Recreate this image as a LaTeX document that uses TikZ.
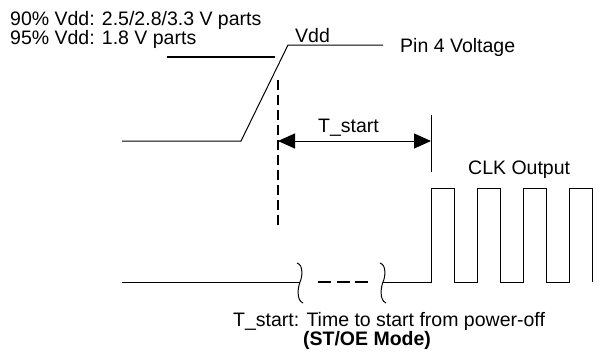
\documentclass[tikz,border=0pt]{standalone}
\usepackage{fontspec}
\setmainfont{Liberation Sans}
\usetikzlibrary{arrows.meta}
\tikzset{
  lbl/.style={inner sep=0pt, anchor=base west, font=\fontsize{19.5}{17}\selectfont},
  wave/.style={line width=1pt},
  dim/.style={line width=1pt, {Triangle[length=17pt,width=15pt]}-{Triangle[length=17pt,width=15pt]}},
  brk/.pic={\draw[wave] (-3,-19) .. controls (4,-17) and (2,-4) .. (0,0) .. controls (-2,5) and (-4,18) .. (3,21);}
}
\begin{document}
\begin{tikzpicture}[x=1pt, y=-1pt]
  \useasboundingbox (0,0) rectangle (609,360);

  % labels
  \node [lbl] (thA) at (10,25) {90\% Vdd: 2.5/2.8/3.3 V parts};
  \node [lbl] (thB) at (10,44) {95\% Vdd: 1.8 V parts};
  \node [lbl] (vdd) at (295,42) {Vdd};
  \node [lbl] (pin) at (400,52) {Pin 4 Voltage};
  \node [lbl] (tstart) at (318,132) {T\_start};
  \node [lbl] (clk) at (468,174) {CLK Output};
  \node [lbl] (note) at (233,326) {T\_start: Time to start from power-off};
  \node [lbl, anchor=base, font=\fontsize{19.5}{17}\selectfont\bfseries] (mode) at (367,345) {(ST/OE Mode)};

  % pin 4 voltage
  \draw [wave] (122,141) -- (241,141) -- (288,45) -- (383,45);
  \draw [line width=2pt] (167,57) -- (275,57);

  % T_start marker
  \draw [line width=1.5pt, dash pattern=on 10pt off 5pt] (278,80) -- (278,225);
  \draw [wave] (431,115) -- (431,172);
  \coordinate (ta) at (278,141);
  \coordinate (tb) at (431,141);
  \draw [dim] (ta) -- (tb);

  % clk output
  \draw [wave] (122,282) -- (300,282);
  \pic at (300,282) {brk};
  \draw [line width=1.5pt, dash pattern=on 13pt off 5.5pt] (318,282) -- (368,282);
  \pic at (383,282) {brk};
  \draw [wave] (383,282) -- (431,282)
    \foreach \x in {431,477,523}{ -- (\x,188) -- (\x+23,188) -- (\x+23,282) -- (\x+46,282)}
    -- (569,188) -- (592,188) -- (592,282);

\end{tikzpicture}
\end{document}
